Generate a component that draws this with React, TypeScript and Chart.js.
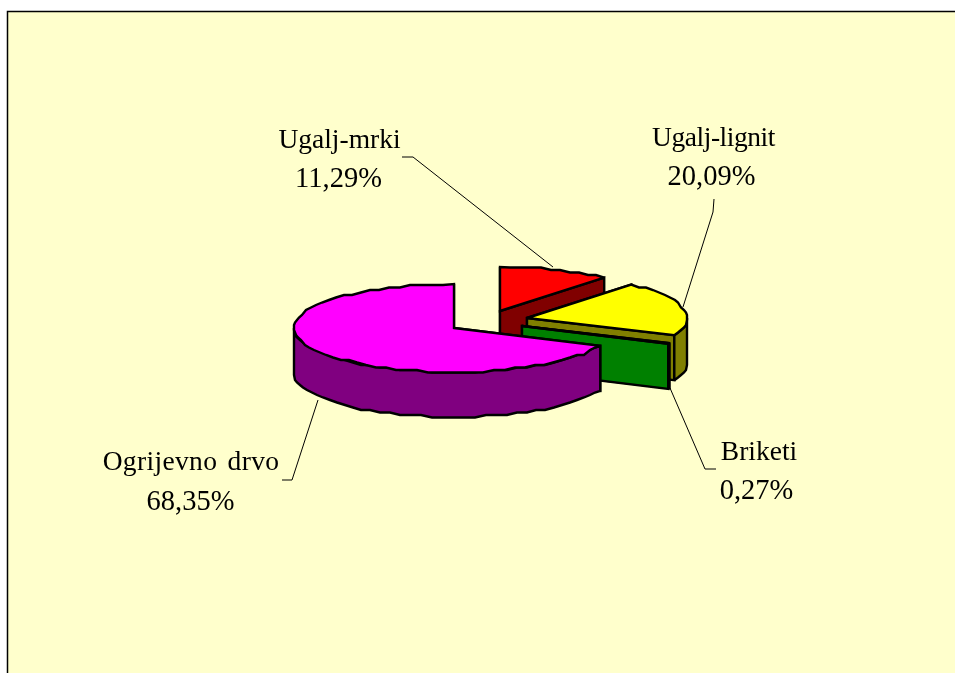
import React, { useEffect, useRef } from "react";
import { Chart, registerables } from "chart.js";

Chart.register(...registerables);

const categories = ["Ugalj-mrki", "Ugalj-lignit", "Briketi", "Ogrijevno drvo"];
const shares = [11.29, 20.09, 0.27, 68.35];
const faceColors = ["#ff0000", "#ffff00", "#008000", "#ff00ff"];
const wallColors = ["#800000", "#808000", "#008000", "#800080"];

const W = 955;
const H = 673;
const CX = 454;
const CY = 328;
const RX = 160;
const RY = 44;
const DEPTH = 45;
const explode: [number, number][] = [[46, -17], [73, -10], [68, -2], [0, 0]];
const labelPos = [
  { x: 339.5, y: 147.5, x2: 338.5, y2: 187, spacing: "0px", words: "0px" },
  { x: 713.5, y: 146, x2: 711.5, y2: 185, spacing: "-0.45px", words: "0px" },
  { x: 759, y: 460, x2: 756.5, y2: 499, spacing: "0px", words: "0px" },
  { x: 191, y: 470, x2: 190.5, y2: 510, spacing: "0.35px", words: "3px" },
];
const leaders: [number, number][][] = [
  [[402, 157], [413, 157], [553, 267]],
  [[714, 199], [713, 212], [683, 307]],
  [[670, 388], [705, 469], [716, 469]],
  [[318, 400], [292, 480], [282, 480]],
];

function rim(cx: number, cy: number, a0: number, a1: number): [number, number][] {
  const pts: [number, number][] = [];
  const step = (4 * Math.PI) / 180;
  const n = Math.max(1, Math.ceil((a1 - a0) / step));
  for (let i = 0; i <= n; i++) {
    const a = a0 + ((a1 - a0) * i) / n;
    const px = cx + RX * Math.cos(a);
    const py = cy + RY * Math.sin(a);
    const edge = i === 0 || i === n;
    pts.push(edge ? [px, py] : [Math.round(px), Math.round(py / 2.5) * 2.5]);
  }
  return pts;
}

function poly(ctx: CanvasRenderingContext2D, pts: [number, number][], fill: string) {
  ctx.beginPath();
  pts.forEach(([x, y], i) => (i ? ctx.lineTo(x, y) : ctx.moveTo(x, y)));
  ctx.closePath();
  ctx.fillStyle = fill;
  ctx.fill();
  ctx.stroke();
}

const down = (pts: [number, number][]) => pts.map(([x, y]) => [x, y + DEPTH] as [number, number]);

const pie3d = {
  id: "pie3d",
  beforeDraw(chart: any) {
    const { ctx } = chart;
    ctx.save();
    ctx.fillStyle = "#ffffcc";
    ctx.fillRect(7, 11, W - 7, H - 11);
    ctx.strokeStyle = "#000000";
    ctx.lineWidth = 1.5;
    ctx.beginPath();
    ctx.moveTo(7.5, H);
    ctx.lineTo(7.5, 11.5);
    ctx.lineTo(W, 11.5);
    ctx.stroke();
    ctx.restore();
  },
  beforeDatasetDraw(chart: any) {
    const { ctx } = chart;
    const arcs = chart.getDatasetMeta(0).data;
    ctx.save();
    ctx.strokeStyle = "#000000";
    ctx.lineWidth = 2.4;
    ctx.lineJoin = "miter";
    ctx.miterLimit = 2;
    arcs.forEach((arc: any, i: number) => {
      const { x, y, startAngle, endAngle } = arc.getProps(["x", "y", "startAngle", "endAngle"], true);
      const cx = x + explode[i][0];
      const cy = y + explode[i][1];
      const wall = wallColors[i];
      const apex: [number, number] = [cx, cy];
      const p0: [number, number] = [cx + RX * Math.cos(startAngle), cy + RY * Math.sin(startAngle)];
      const p1: [number, number] = [cx + RX * Math.cos(endAngle), cy + RY * Math.sin(endAngle)];
      poly(ctx, [apex, p0, ...down([p0, apex])], wall);
      poly(ctx, [apex, p1, ...down([p1, apex])], wall);
      const a0 = Math.max(startAngle, 0);
      const a1 = Math.min(endAngle, Math.PI);
      if (a1 > a0) {
        const r = rim(cx, cy, a0, a1);
        poly(ctx, [...r, ...down(r).reverse()], wall);
      }
      poly(ctx, [apex, ...rim(cx, cy, startAngle, endAngle)], faceColors[i]);
    });
    ctx.restore();
    return false;
  },
  afterDatasetsDraw(chart: any) {
    const { ctx } = chart;
    ctx.save();
    ctx.strokeStyle = "#000000";
    ctx.lineWidth = 1;
    leaders.forEach((l) => {
      ctx.beginPath();
      l.forEach(([x, y], i) => (i ? ctx.lineTo(x, y) : ctx.moveTo(x, y)));
      ctx.stroke();
    });
    ctx.fillStyle = "#000000";
    ctx.textAlign = "center";
    ctx.textBaseline = "alphabetic";
    categories.forEach((c, i) => {
      const p = labelPos[i];
      ctx.font = '27.5px "Liberation Serif"';
      ctx.letterSpacing = p.spacing;
      ctx.wordSpacing = p.words;
      ctx.fillText(c, p.x, p.y);
      ctx.font = '28.5px "Liberation Serif"';
      ctx.letterSpacing = "0px";
      ctx.wordSpacing = "0px";
      ctx.fillText(shares[i].toFixed(2).replace(".", ",") + "%", p.x2, p.y2);
    });
    ctx.restore();
  },
};

export default function App() {
  const ref = useRef<HTMLCanvasElement>(null);
  useEffect(() => {
    document.body.style.margin = "0";
    const chart = new Chart(ref.current!, {
      type: "pie",
      data: {
        labels: categories,
        datasets: [{ data: shares, backgroundColor: faceColors, borderWidth: 0 }],
      },
      options: {
        responsive: false,
        animation: false,
        layout: {
          padding: {
            left: CX - RX,
            right: W - CX - RX,
            top: CY - RX,
            bottom: H - CY - RX,
          },
        },
        plugins: { legend: { display: false }, tooltip: { enabled: false }, title: { display: false } },
      },
      plugins: [pie3d],
    } as any);
    return () => chart.destroy();
  }, []);
  return <canvas ref={ref} width={W} height={H} style={{ display: "block" }} />;
}
